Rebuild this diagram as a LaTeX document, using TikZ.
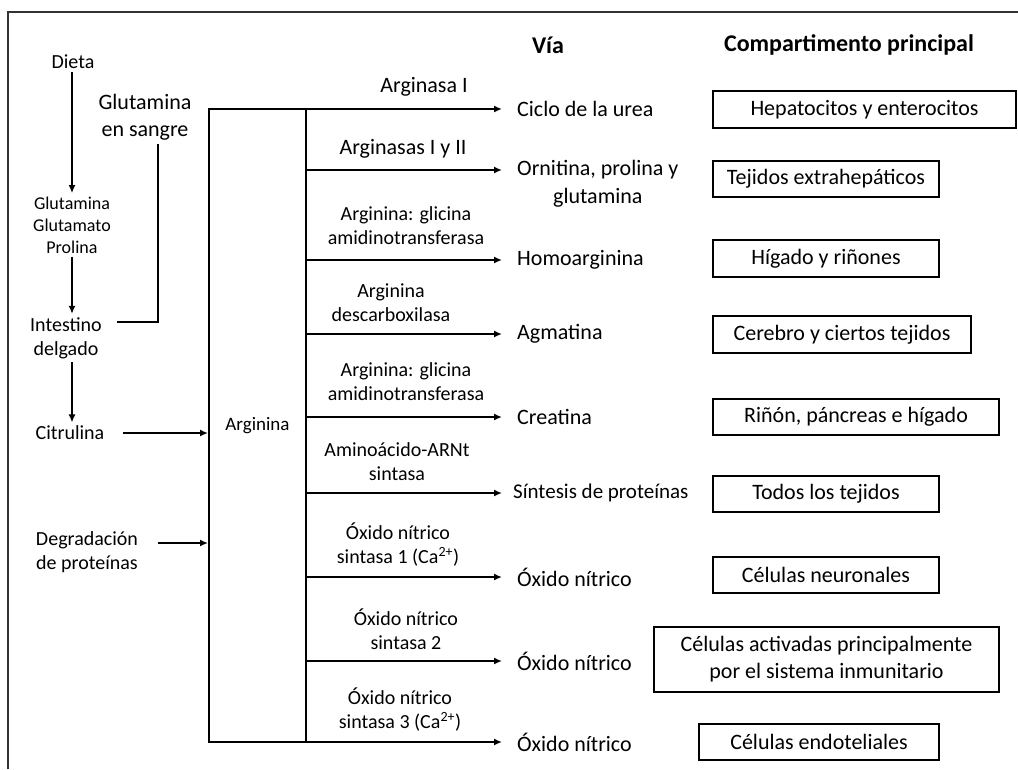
\documentclass[tikz,border=0pt]{standalone}
\usepackage{fontspec}
\setmainfont{Carlito}
\usetikzlibrary{arrows.meta,positioning}

\begin{document}
\begin{tikzpicture}[x=1pt,y=-1pt,
  arr/.style={line width=2pt,-{Latex[length=8pt,width=7pt]}},
  link/.style={line width=2pt},
  src/.style={font=\fontsize{20}{24}\selectfont,align=center},
  enz/.style={font=\fontsize{20}{24}\selectfont,align=center},
  prod/.style={font=\fontsize{22}{28}\selectfont,align=center,anchor=west,inner xsep=15pt},
  comp/.style={draw,line width=1.2pt,font=\fontsize{22}{27}\selectfont,align=center,inner sep=0pt},
  head/.style={font=\fontsize{24}{28}\selectfont\bfseries},
]
  \useasboundingbox (0,0) rectangle (1018,769);
  \draw[line width=1.2pt,black!80] (8,769) -- (8,12) -- (1018,12);

  % sources
  \node[src] (dieta) at (73,62) {Dieta};
  \node[font=\fontsize{18}{22}\selectfont,align=center] (glu) at (72,225) {Glutamina\\Glutamato\\Prolina};
  \node[src,font=\fontsize{22}{27}\selectfont] (gs) at (145,117) {Glutamina\\en sangre};
  \node[src] (int) at (66,338) {Intestino\\delgado};
  \node[src] (cit) at (70,433) {Citrulina};
  \node[src] (deg) at (87,552) {Degradación\\de proteínas};

  \node[draw,line width=2pt,minimum width=97pt,minimum height=633pt,
        font=\fontsize{19}{22}\selectfont] (arg) at (257.5,425.5) {Arginina};

  \draw[arr] (glu.north |- dieta.south) -- (glu.north);
  \draw[arr] (glu.south) -- (glu.south |- int.north);
  \draw[arr] (glu.south |- int.south) -- (glu.south |- cit.north);
  \draw[link] ([xshift=12pt,yshift=16pt]int.east) -| ([xshift=13pt]gs.south);
  \draw[arr] ([xshift=15pt]cit.east) -- (cit.east -| arg.west);
  \draw[arr] ([xshift=16pt,yshift=9pt]deg.east) -- ([yshift=9pt]deg.east -| arg.west);

  % headers
  \node[head] (via) at (548,45) {Vía};
  \node[head] (comph) at (849,45) {Compartimento principal};

  % products
  \node[prod] (p1) at (502,109) {Ciclo de la urea};
  \node[prod] (p2) at (502,184) {Ornitina, prolina y\\glutamina};
  \node[prod] (p3) at (502,260) {Homoarginina};
  \node[prod] (p4) at (502,334) {Agmatina};
  \node[prod] (p5) at (502,417) {Creatina};
  \node[prod,inner xsep=11pt,font=\fontsize{21}{26}\selectfont] (p6) at (502,493) {Síntesis de proteínas};
  \node[prod] (p7) at (502,577) {Óxido nítrico};
  \node[prod] (p8) at (502,661) {Óxido nítrico};
  \node[prod] (p9) at (502,742) {Óxido nítrico};
  \coordinate (p2in) at ([yshift=14pt]p2.west);

  \foreach \i in {1,3,4,5,6,7,8,9}
    \draw[arr] (arg.east |- p\i.west) -- (p\i.west);
  \draw[arr] (arg.east |- p2in) -- (p2in);

  % enzymes
  \node[enz,font=\fontsize{22}{26}\selectfont] (e1) at (424,87) {Arginasa I};
  \node[enz,font=\fontsize{22}{26}\selectfont] (e2) at (403,149) {Arginasas I y II};
  \node[enz] (e3) at (406,226) {Arginina: glicina\\amidinotransferasa};
  \node[enz] (e4) at (391,303) {Arginina\\descarboxilasa};
  \node[enz] (e5) at (406,382) {Arginina: glicina\\amidinotransferasa};
  \node[enz] (e6) at (397,462) {Aminoácido-ARNt\\sintasa};
  \node[enz] (e7) at (398,545) {Óxido nítrico\\sintasa 1 (Ca\textsuperscript{2+})};
  \node[enz] (e8) at (406,629) {Óxido nítrico\\sintasa 2};
  \node[enz] (e9) at (400,710) {Óxido nítrico\\sintasa 3 (Ca\textsuperscript{2+})};

  % compartments
  \node[comp,minimum width=303pt,minimum height=37pt] (c1) at (864.5,109.5) {Hepatocitos y enterocitos};
  \node[comp,minimum width=226pt,minimum height=36pt] (c2) at (826,179) {Tejidos extrahepáticos};
  \node[comp,minimum width=226pt,minimum height=37pt] (c3) at (826,258.5) {Hígado y riñones};
  \node[comp,minimum width=258pt,minimum height=37pt] (c4) at (842,334.5) {Cerebro y ciertos tejidos};
  \node[comp,minimum width=286pt,minimum height=36pt] (c5) at (856,417) {Riñón, páncreas e hígado};
  \node[comp,minimum width=226pt,minimum height=36pt] (c6) at (826,494) {Todos los tejidos};
  \node[comp,minimum width=226pt,minimum height=36pt] (c7) at (826,575) {Células neuronales};
  \node[comp,minimum width=345pt,minimum height=65pt] (c8) at (826.5,659.5) {Células activadas principalmente\\por el sistema inmunitario};
  \node[comp,minimum width=240pt,minimum height=36pt] (c9) at (819,742) {Células endoteliales};
\end{tikzpicture}
\end{document}
